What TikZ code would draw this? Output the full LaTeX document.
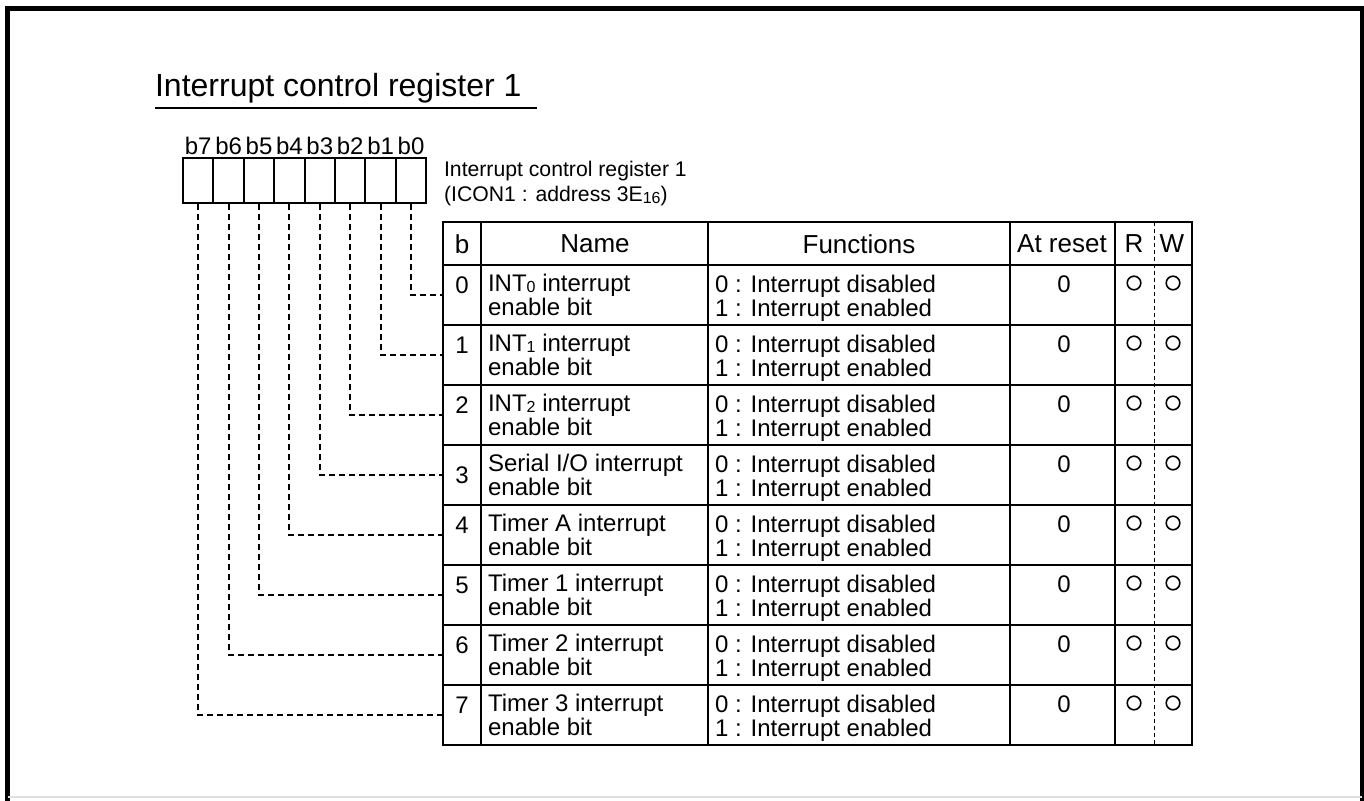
\documentclass[tikz,border=0pt]{standalone}
\usepackage{fontspec}
\setmainfont{Liberation Sans}
\newcommand{\lowidx}[1]{\raisebox{-0.1ex}{\fontsize{8}{8}\selectfont #1}}

\begin{document}
\begin{tikzpicture}[x=0.5pt, y=-0.5pt, font=\fontsize{12}{12}\selectfont,
    rule/.style={line width=1pt},
    link/.style={line width=1pt, dash pattern=on 3pt off 2pt},
    head/.style={font=\fontsize{13}{13}\selectfont}]
  \useasboundingbox (0,0) rectangle (1364,801);
  % frame of the page
  \draw[line width=2.5pt] (7.5,801) -- (7.5,8.5) -- (1362.5,8.5) -- (1362.5,801);
  \draw[gray!25, line width=0.8pt] (8,797) -- (1362,797);

  \node[anchor=base west, font=\fontsize{16}{16}\selectfont] (title) at (148,97) {Interrupt control register 1};
  \draw[line width=0.6pt] (155,108) -- (537,108);

  % the register, b7 ... b0
  \foreach \b in {0,...,7}
    \node[draw, rule, minimum width=15.2pt, minimum height=22.5pt, inner sep=0pt,
          label={[inner sep=1pt]above:b\b}] (bit\b) at ({411-30.4*\b},180.5) {};
  \node[anchor=west, align=left, font=\fontsize{10.6}{12.5}\selectfont] (regname) at (437,184)
    {Interrupt control register 1\\(ICON1 : address 3E\lowidx{16})};

  % table
  \draw[rule] (443,222) rectangle (1192,745);
  \foreach \x in {481,708,1010,1115}
    \draw[rule] (\x,222) -- (\x,745);
  \foreach \k in {0,...,7}
    \draw[rule] (443,{265+60*\k}) -- (1192,{265+60*\k});
  \draw[line width=0.5pt, dash pattern=on 2pt off 1.5pt] (1154,222) -- (1154,745);

  \node[head] (hb) at (462,244) {b};
  \node[head] (hname) at (595,244) {Name};
  \node[head] (hfn) at (859,244) {Functions};
  \node[head] (hrst) at (1062,244) {At reset};
  \node[head] (hr) at (1134,244) {R};
  \node[head] (hw) at (1172,244) {W};

  \foreach \k/\nm in {0/{INT\lowidx{0} interrupt}, 1/{INT\lowidx{1} interrupt},
      2/{INT\lowidx{2} interrupt}, 3/{Serial I/O interrupt}, 4/{Timer A interrupt},
      5/{Timer 1 interrupt}, 6/{Timer 2 interrupt}, 7/{Timer 3 interrupt}} {
    \pgfmathsetmacro{\yc}{295+60*\k}
    \pgfmathsetmacro{\yn}{\k==3 ? \yc : \yc-10}
    \node (num\k) at (462,\yn) {\k};
    \node[anchor=west, align=left] (name\k) at (481,\yc) {\nm\\enable bit};
    \node[anchor=west, align=left] (fn\k) at (708,\yc+3) {0 : Interrupt disabled\\1 : Interrupt enabled};
    \node (rst\k) at (1064,\yc-11) {0};
    \draw[line width=0.8pt] (1134,\yc-12) circle (3.4pt) (1173,\yc-12) circle (3.4pt);
    \coordinate (in\k) at (443,\yc);
    \draw[link] (bit\k.south) |- (in\k);
  }
\end{tikzpicture}
\end{document}
